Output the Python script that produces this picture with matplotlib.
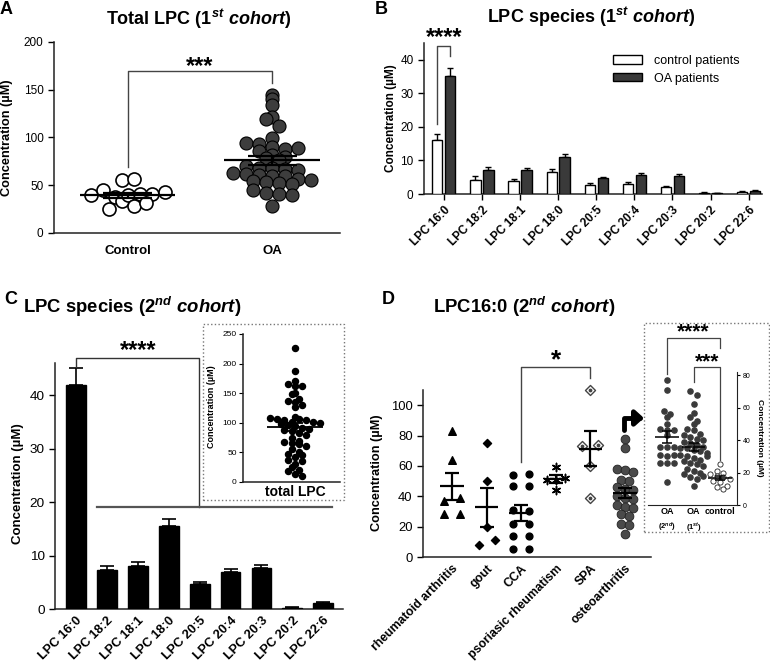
import numpy as np
import matplotlib
matplotlib.use('Agg')
import matplotlib.pyplot as plt
import matplotlib.transforms as mtransforms
from matplotlib.patches import Rectangle, Patch

W, H = 770, 665

# ---------------- data ----------------
# A: total LPC, 1st cohort
a_groups = ['Control', 'OA']
a_control = [55, 40, 25, 45, 38, 33, 40, 41, 28, 41, 57, 43, 31]
a_oa = [145, 140, 134, 121, 119, 112, 99, 94, 93, 90, 88, 89, 86, 82, 80, 79, 76,
        70, 68, 68, 67, 66, 63, 62, 61, 60, 60, 57, 56, 54, 53, 52, 51, 45, 42, 41, 40, 28]

# B: LPC species, 1st cohort
species = ['LPC 16:0', 'LPC 18:2', 'LPC 18:1', 'LPC 18:0', 'LPC 20:5',
           'LPC 20:4', 'LPC 20:3', 'LPC 20:2', 'LPC 22:6']
b_control = [16.2, 4.2, 4.0, 6.7, 2.6, 3.1, 2.0, 0.4, 0.7]
b_control_err = [1.7, 1.1, 0.5, 0.8, 0.7, 0.6, 0.3, 0.05, 0.1]
b_oa = [35.2, 7.3, 7.1, 11.0, 4.7, 5.8, 5.3, 0.3, 1.0]
b_oa_err = [2.3, 0.6, 0.5, 0.9, 0.4, 0.5, 0.6, 0.05, 0.2]

# C: LPC species, 2nd cohort (+ inset total LPC)
c_mean = [41.9, 7.2, 8.1, 15.6, 4.6, 7.0, 7.6, 0.25, 1.1]
c_err = [3.2, 0.75, 0.7, 1.3, 0.5, 0.45, 0.7, 0.05, 0.2]
c_total = [227, 188, 170, 166, 163, 162, 150, 148, 140, 137, 135, 130, 127, 108, 106,
           104, 102, 110, 107, 105, 101, 100, 98, 96, 95, 92, 90, 88, 86, 83, 80, 75,
           70, 68, 66, 64, 60, 55, 48, 42, 38, 30, 25, 18, 14, 10, 45, 50, 35, 20]

# D: LPC16:0, 2nd cohort, by diagnosis
d_groups = ['rheumatoid arthritis', 'gout', 'CCA', 'psoriasic rheumatism', 'SPA', 'osteoarthritis']
d_ra = [83, 64, 37, 39, 28, 28]
d_gout = [75, 50, 20, 8, 11]
d_cca = [54, 55, 47, 47, 31, 30, 22, 22, 14, 14, 5, 5.5]
d_psa = [59, 51, 51, 52, 44]
d_spa = [110, 73, 74, 60, 39]
d_oa = [78, 72, 58, 57, 56, 51, 50, 46, 45, 44, 40, 39, 38, 34, 33, 32, 28, 27, 22, 21, 15]

# D inset: OA 2nd vs OA 1st vs control
e_groups = ['OA', 'OA', 'control']
e_sub = ['(2^{nd})', '(1^{st})', '']
e_oa2 = [77, 71, 58, 56, 54, 50, 47, 46, 46, 43, 36, 36, 36, 31, 30, 31, 26, 26, 26, 14]
e_oa1 = [70, 68, 62, 57, 54, 52, 50, 47, 46, 44, 43, 42, 41, 40, 39, 38, 37, 36, 35, 35,
         34, 33, 32, 31, 30, 29, 28, 27, 26, 25, 24, 22, 21, 19, 17, 16, 12, 20, 18, 30]
e_ctrl = [25, 21, 20, 19, 18, 17, 16, 15, 14, 12, 11, 10]

# ---------------- style ----------------
plt.rcParams['font.family'] = ['Liberation Sans', 'DejaVu Sans']
plt.rcParams['mathtext.fontset'] = 'custom'
plt.rcParams['mathtext.it'] = 'Liberation Sans:italic:bold'
plt.rcParams['mathtext.rm'] = 'Liberation Sans:bold'
plt.rcParams['mathtext.bf'] = 'Liberation Sans:bold'
plt.rcParams['axes.linewidth'] = 1.1
plt.rcParams['axes.edgecolor'] = '#222222'
plt.rcParams['xtick.direction'] = 'out'
plt.rcParams['ytick.direction'] = 'out'

fig = plt.figure(figsize=(W / 100, H / 100), dpi=100)


def box(l, t, r, b):
    return [l / W, 1 - b / H, (r - l) / W, (b - t) / H]


def fx(px):
    return px / W


def fy(py):
    return 1 - py / H


def spread(vals, bin_h, gap):
    # GraphPad-like column scatter: points in the same value band are spread side by side
    vals = np.asarray(vals, float)
    bins = np.floor(vals / bin_h)
    off = np.zeros(len(vals))
    for b in np.unique(bins):
        idx = np.where(bins == b)[0]
        n = len(idx)
        off[idx] = (np.arange(n) - (n - 1) / 2) * gap
    return off


def mean_sem(ax, x, vals, half_mean, half_cap, lw):
    vals = np.asarray(vals, float)
    m = vals.mean()
    s = vals.std(ddof=1) / np.sqrt(len(vals))
    ax.hlines(m, x - half_mean, x + half_mean, color='k', lw=lw, zorder=5)
    ax.vlines(x, m - s, m + s, color='k', lw=lw, zorder=5)
    ax.hlines([m - s, m + s], x - half_cap, x + half_cap, color='k', lw=lw, zorder=5)


def clean(ax):
    ax.spines['top'].set_visible(False)
    ax.spines['right'].set_visible(False)


def shift_labels(ax, dx_px):
    off = mtransforms.ScaledTranslation(dx_px / 100, 0, fig.dpi_scale_trans)
    for lab in ax.get_xticklabels():
        lab.set_transform(lab.get_transform() + off)


# ---------------- panel A ----------------
ax_a = fig.add_axes(box(54, 42, 340, 233))
clean(ax_a)
ax_a.set_xlim(-0.51, 1.47)
ax_a.set_ylim(0, 200)
ax_a.scatter(0 + spread(a_control, 12, 0.085), a_control, s=88, facecolor='white',
             edgecolor='k', lw=1.2, zorder=3, clip_on=False)
ax_a.scatter(1 + spread(a_oa, 8, 0.09), a_oa, s=88, facecolor='#3d3d3d',
             edgecolor='k', lw=0.8, zorder=3, clip_on=False)
mean_sem(ax_a, 0, a_control, 0.33, 0.17, 1.6)
mean_sem(ax_a, 1, a_oa, 0.33, 0.17, 1.6)
ax_a.set_yticks([0, 50, 100, 150, 200])
ax_a.set_xticks([0, 1])
ax_a.set_xticklabels(a_groups, fontsize=9.5, fontweight='bold')
ax_a.tick_params(axis='x', length=0, pad=9)
ax_a.tick_params(axis='y', labelsize=8.5, length=4, width=1)
ax_a.plot([0, 0, 1, 1], [69, 170, 170, 157], color='#444444', lw=1, clip_on=False)
ax_a.text(0.5, 174, '***', ha='center', va='center', fontsize=17, fontweight='bold')
fig.text(fx(7), fy(138), 'Concentration (µM)', rotation=90, ha='center', va='center',
         fontsize=9.2, fontweight='bold')
fig.text(fx(199), fy(19), r'Total LPC $\mathit{(1^{st}\ cohort)}$', ha='center', va='center',
         fontsize=13, fontweight='bold')

# ---------------- panel B ----------------
ax_b = fig.add_axes(box(424, 43, 762, 194))
clean(ax_b)
xb = np.arange(len(species))
ax_b.set_xlim(-0.52, 8.35)
ax_b.set_ylim(0, 45)
ax_b.bar(xb - 0.17, b_control, width=0.27, color='white', edgecolor='k', lw=1, zorder=3)
ax_b.bar(xb + 0.17, b_oa, width=0.27, color='#3a3a3a', edgecolor='k', lw=1, zorder=3)
ax_b.errorbar(xb - 0.17, b_control, yerr=[np.zeros(len(xb)), b_control_err], fmt='none',
              ecolor='k', elinewidth=1, capsize=2.5, capthick=1, zorder=2)
ax_b.errorbar(xb + 0.17, b_oa, yerr=[np.zeros(len(xb)), b_oa_err], fmt='none',
              ecolor='k', elinewidth=1, capsize=2.5, capthick=1, zorder=2)
ax_b.set_yticks([0, 10, 20, 30, 40])
ax_b.set_xticks(xb)
ax_b.set_xticklabels(species, rotation=45, ha='right', rotation_mode='anchor',
                     fontsize=8.5, fontweight='bold')
shift_labels(ax_b, 4)
ax_b.tick_params(axis='y', labelsize=8.5, length=4, width=1)
ax_b.tick_params(axis='x', length=4, width=1)
ax_b.plot([-0.17, -0.17, 0.17, 0.17], [21, 44.2, 44.2, 41], color='#444444', lw=1, clip_on=False)
ax_b.text(0, 46.6, '****', ha='center', va='center', fontsize=17, fontweight='bold',
          clip_on=False)
ax_b.legend([Patch(facecolor='white', edgecolor='k', lw=1),
             Patch(facecolor='#3a3a3a', edgecolor='k', lw=1)],
            ['control patients', 'OA patients'], loc='upper left',
            bbox_to_anchor=(fx(613), fy(55)), bbox_transform=fig.transFigure,
            frameon=False, fontsize=9, handlelength=2.3, handleheight=0.65,
            labelspacing=0.45, borderpad=0, borderaxespad=0, handletextpad=1.0)
fig.text(fx(391), fy(118), 'Concentration (µM)', rotation=90, ha='center', va='center',
         fontsize=8.5, fontweight='bold')
fig.text(fx(591), fy(17), r'LPC species $\mathit{(1^{st}\ cohort)}$', ha='center', va='center',
         fontsize=13, fontweight='bold')

# ---------------- panel C ----------------
ax_c = fig.add_axes(box(55, 363, 343, 609))
clean(ax_c)
xc = np.arange(len(species))
ax_c.set_xlim(-0.68, 8.64)
ax_c.set_ylim(0, 46)
ax_c.bar(xc, c_mean, width=0.64, color='black', edgecolor='black', zorder=3)
ax_c.errorbar(xc, c_mean, yerr=[np.zeros(len(xc)), c_err], fmt='none', ecolor='k',
              elinewidth=1.2, capsize=5, capthick=1.2, zorder=2)
ax_c.set_yticks([0, 10, 20, 30, 40])
ax_c.set_xticks(xc)
ax_c.set_xticklabels(species, rotation=45, ha='right', rotation_mode='anchor',
                     fontsize=9.3, fontweight='bold')
shift_labels(ax_c, 7)
ax_c.tick_params(axis='y', labelsize=9.7, length=4, width=1)
ax_c.tick_params(axis='x', length=0, pad=4)
ax_c.plot([0, 0, 3.98, 3.98], [45.2, 46.9, 46.9, 19.1], color='#333333', lw=1, clip_on=False)
ax_c.plot([0.67, 8.3], [19.1, 19.1], color='#555555', lw=1.6, clip_on=False)
ax_c.text(2.0, 48.4, '****', ha='center', va='center', fontsize=17, fontweight='bold',
          clip_on=False)
fig.text(fx(18), fy(484), 'Concentration (µM)', rotation=90, ha='center', va='center',
         fontsize=9.5, fontweight='bold')
fig.text(fx(132), fy(307), r'LPC species $\mathit{(2^{nd}\ cohort)}$', ha='center', va='center',
         fontsize=13.3, fontweight='bold')

# inset C: total LPC
fig.add_artist(Rectangle((fx(203), fy(500)), (344 - 203) / W, (500 - 324) / H,
                         transform=fig.transFigure, fill=False, ls=':', ec='#777777', lw=1))
ax_ci = fig.add_axes(box(243, 334, 340, 482))
clean(ax_ci)
ax_ci.set_xlim(-1.0, 0.865)
ax_ci.set_ylim(0, 250)
ax_ci.scatter(spread(c_total, 10, 0.135), c_total, s=19, color='black', zorder=3, clip_on=False)
mean_sem(ax_ci, 0, c_total, 0.53, 0.15, 1.3)
ax_ci.set_yticks([0, 50, 100, 150, 200, 250])
ax_ci.set_xticks([0])
ax_ci.set_xticklabels(['total LPC'], fontsize=10, fontweight='bold')
ax_ci.tick_params(axis='x', length=0, pad=2)
ax_ci.tick_params(axis='y', labelsize=6, length=3, width=0.8, pad=1.5)
fig.text(fx(212), fy(407), 'Concentration (µM)', rotation=90, ha='center', va='center',
         fontsize=6.5, fontweight='bold')

# ---------------- panel D ----------------
ax_d = fig.add_axes(box(423, 390, 651, 557))
clean(ax_d)
ax_d.set_xlim(-0.84, 5.75)
ax_d.set_ylim(0, 110)
ax_d.scatter(0 + spread(d_ra, 6, 0.46), d_ra, marker='^', s=30, color='black', zorder=3,
             clip_on=False)
ax_d.scatter(1 + spread(d_gout, 6, 0.46), d_gout, marker='D', s=17, color='black', zorder=3,
             clip_on=False)
ax_d.scatter(2 + spread(d_cca, 6, 0.46), d_cca, marker='o', s=24, color='black', zorder=3,
             clip_on=False)
ax_d.scatter(3 + spread(d_psa, 6, 0.25), d_psa, marker=(6, 2, 0), s=35, color='black',
             lw=1.1, zorder=3, clip_on=False)
ax_d.scatter(4 + spread(d_spa, 6, 0.46), d_spa, marker='D', s=26, facecolor='white',
             edgecolor='#444444', lw=1, zorder=3, clip_on=False)
ax_d.scatter(4 + spread(d_spa, 6, 0.46), d_spa, marker='o', s=3, color='#444444', zorder=3,
             clip_on=False)
ax_d.scatter(5 + spread(d_oa, 6, 0.24), d_oa, marker='o', s=40, facecolor='#4a4a4a',
             edgecolor='#222222', lw=0.6, zorder=3, clip_on=False)
for i, grp in enumerate([d_ra, d_gout, d_cca, d_psa, d_spa, d_oa]):
    mean_sem(ax_d, i, grp, 0.34, 0.2, 1.6)
ax_d.set_yticks([0, 20, 40, 60, 80, 100])
ax_d.set_xticks(np.arange(len(d_groups)))
ax_d.set_xticklabels(d_groups, rotation=45, ha='right', rotation_mode='anchor',
                     fontsize=8.8, fontweight='bold')
shift_labels(ax_d, 2)
ax_d.tick_params(axis='y', labelsize=9.4, length=4, width=1)
ax_d.tick_params(axis='x', length=0, pad=4)
ax_d.plot([2, 2, 4, 4], [62.5, 125, 125, 118], color='#444444', lw=1, clip_on=False)
ax_d.text(3, 129.5, '*', ha='center', va='center', fontsize=19, fontweight='bold')
fig.text(fx(377), fy(473), 'Concentration (µM)', rotation=90, ha='center', va='center',
         fontsize=9.2, fontweight='bold')
fig.text(fx(524), fy(307), r'LPC16:0 $\mathit{(2^{nd}\ cohort)}$', ha='center', va='center',
         fontsize=13.3, fontweight='bold')
ax_d.annotate('', xy=(644, H - 418), xytext=(624, H - 430), xycoords='figure pixels',
              textcoords='figure pixels',
              arrowprops=dict(arrowstyle='-|>,head_width=0.45,head_length=0.5',
                              connectionstyle='angle,angleA=90,angleB=0,rad=0',
                              lw=3.5, color='black', shrinkA=0, shrinkB=0))

# inset D
fig.add_artist(Rectangle((fx(644), fy(532)), (769 - 644) / W, (532 - 323) / H,
                         transform=fig.transFigure, fill=False, ls=':', ec='#777777', lw=1))
ax_e = fig.add_axes(box(648, 372, 737, 505))
ax_e.spines['top'].set_visible(False)
ax_e.spines['left'].set_visible(False)
ax_e.spines['right'].set_linewidth(0.8)
ax_e.spines['bottom'].set_linewidth(0.8)
ax_e.yaxis.tick_right()
ax_e.set_xlim(-0.72, 2.64)
ax_e.set_ylim(0, 82)
ax_e.scatter(0 + spread(e_oa2, 4, 0.25), e_oa2, s=14, color='#3a3a3a', zorder=3)
ax_e.scatter(1 + spread(e_oa1, 4, 0.25), e_oa1, s=14, color='#3a3a3a', zorder=3)
ax_e.scatter(2 + spread(e_ctrl, 4, 0.25), e_ctrl, s=14, facecolor='white',
             edgecolor='#222222', lw=0.6, zorder=3)
for i, grp in enumerate([e_oa2, e_oa1, e_ctrl]):
    mean_sem(ax_e, i, grp, 0.45, 0.19, 1.1)
ax_e.set_yticks([0, 20, 40, 60, 80])
ax_e.set_xticks([0, 1, 2])
ax_e.set_xticklabels(e_groups, fontsize=6.5, fontweight='bold')
ax_e.tick_params(axis='x', length=0, pad=1.5)
ax_e.tick_params(axis='y', labelsize=5, length=2.5, width=0.8, pad=1.5)
for i, sub in enumerate(e_sub):
    if sub:
        ax_e.text(i, -0.17, '$\\mathit{' + sub + '}$', transform=ax_e.get_xaxis_transform(),
                  ha='center', va='center', fontsize=5.5)
ax_e.plot([0, 0, 2, 2], [81, 103, 103, 97], color='#444444', lw=0.9, clip_on=False)
ax_e.plot([1, 1, 2, 2], [76, 85, 85, 28], color='#444444', lw=0.9, clip_on=False)
ax_e.text(1, 106.5, '****', ha='center', va='center', fontsize=15, fontweight='bold')
ax_e.text(1.5, 88.5, '***', ha='center', va='center', fontsize=15, fontweight='bold')
fig.text(fx(760), fy(438), 'Concentration (µM)', rotation=270, ha='center', va='center',
         fontsize=6, fontweight='bold')

# panel letters
for lab, px, py in [('A', 6, 10), ('B', 381, 10), ('C', 11, 299), ('D', 388, 299)]:
    fig.text(fx(px), fy(py), lab, ha='center', va='center', fontsize=13, fontweight='bold')

fig.savefig('out.png', dpi=100)
